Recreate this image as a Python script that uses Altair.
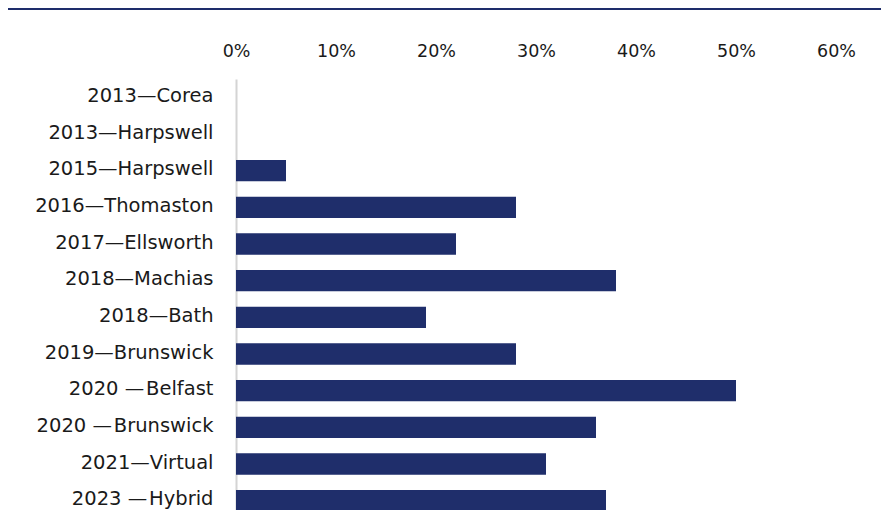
import altair as alt
import pandas as pd

labels = [
    "2013\u2014Corea",
    "2013\u2014Harpswell",
    "2015\u2014Harpswell",
    "2016\u2014Thomaston",
    "2017\u2014Ellsworth",
    "2018\u2014Machias",
    "2018\u2014Bath",
    "2019\u2014Brunswick",
    "2020 \u2014\u200aBelfast",
    "2020 \u2014\u200aBrunswick",
    "2021\u2014Virtual",
    "2023 \u2014\u200aHybrid",
]
values = [0, 0, 5, 28, 22, 38, 19, 28, 50, 36, 31, 37]
ticks = [0, 10, 20, 30, 40, 50, 60]

df = pd.DataFrame({"label": labels, "value": values})

NAVY = "#1f2e6b"
FONT = "DejaVu Sans"

bars = alt.Chart(df).mark_bar(color=NAVY).encode(
    y=alt.Y(
        "label:N",
        sort=labels,
        title=None,
        scale=alt.Scale(paddingInner=0.42, paddingOuter=0.21, range=[0, 440]),
        axis=alt.Axis(
            labelFont=FONT,
            labelFontSize=19.5,
            labelColor="#1a1a1a",
            labelPadding=23,
            labelOffset=-1.5,
            ticks=False,
            domain=True,
            domainColor="#d4d4d4",
            domainWidth=2,
            labelLimit=300,
        ),
    ),
    x=alt.X(
        "value:Q",
        title=None,
        scale=alt.Scale(domain=[0, 60], nice=False),
        axis=alt.Axis(
            orient="top",
            values=ticks,
            labelExpr="datum.value + '%'",
            labelFont=FONT,
            labelFontSize=17.5,
            labelColor="#1a1a1a",
            labelPadding=19,
            labelFlush=False,
            ticks=False,
            domain=False,
            grid=False,
        ),
    ),
)

topline = alt.Chart(df).mark_rule(color=NAVY, strokeWidth=1.5, clip=False).encode(
    x=alt.value(-230), x2=alt.value(670), y=alt.value(-70)
)

chart = (
    alt.layer(topline, bars)
    .properties(
        width=600,
        height=431,
        autosize=alt.AutoSizeParams(type="none"),
        padding={"left": 228, "top": 71, "right": 45, "bottom": 0},
    )
    .configure_view(stroke=None)
)

chart.save("out.html", embed_options={"renderer": "svg", "actions": False})
